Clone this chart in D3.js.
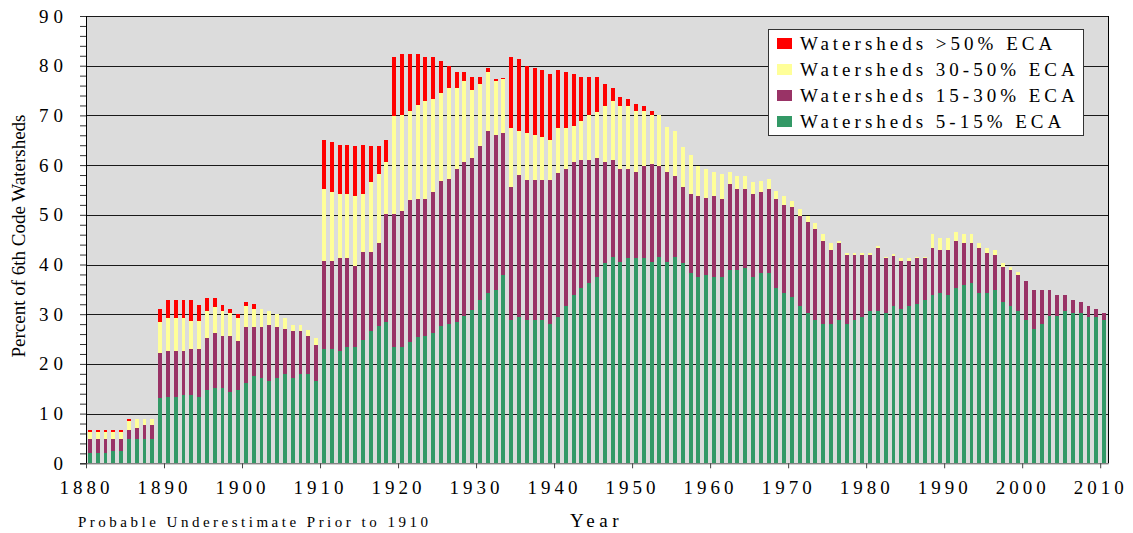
<!DOCTYPE html>
<html lang="en">
<head>
  <meta charset="UTF-8">
  <script src="https://d3js.org/d3.v7.min.js"></script>
  <style>
    body { margin: 0; background: white; }
    text { font-family: "Liberation Serif", "Times New Roman", serif; fill: #000; }
  </style>
</head>
<body>
  <div id="chart"></div>
  <script>
    // one value per year, 1880 .. 2010
    const years = d3.range(1880, 2011);

    const green = [
      2.1, 2.1, 2.1, 2.5, 2.5, 4.8, 4.8, 4.8, 4.8, 13.1,
      13.4, 13.4, 13.8, 13.8, 13.4, 14.8, 15.1, 15.1, 14.3, 14.8,
      16.1, 17.5, 17.1, 16.6, 17.1, 18.0, 17.1, 18.0, 18.0, 16.6,
      23.0, 23.0, 22.6, 23.4, 23.4, 24.8, 26.6, 27.7, 28.5, 23.4,
      23.4, 24.4, 25.4, 25.7, 26.2, 27.7, 28.1, 28.5, 29.7, 30.8,
      32.9, 34.2, 34.9, 37.9, 28.9, 29.4, 28.9, 28.9, 28.9, 28.1,
      29.5, 31.7, 33.9, 35.2, 36.2, 37.5, 40.3, 41.5, 40.6, 41.3,
      41.3, 41.3, 40.6, 41.5, 40.6, 41.5, 40.3, 38.3, 37.5, 37.9,
      37.5, 37.5, 38.8, 38.8, 39.3, 37.5, 38.3, 38.3, 35.2, 34.2,
      33.5, 31.7, 30.2, 28.9, 28.1, 28.1, 28.9, 28.1, 28.9, 29.4,
      30.6, 30.6, 30.2, 31.7, 31.1, 31.7, 32.1, 32.9, 33.9, 34.2,
      33.9, 35.2, 35.8, 36.2, 34.2, 34.2, 34.8, 32.5, 31.7, 30.6,
      28.9, 27.0, 28.1, 29.7, 29.7, 30.6, 30.2, 30.2, 29.4, 29.4, 28.9
    ];
    const purple = [
      2.7, 2.7, 2.7, 2.3, 2.3, 1.8, 2.4, 2.85, 2.85, 9.0,
      9.2, 9.2, 8.8, 9.2, 9.6, 10.4, 11.2, 10.5, 11.3, 9.8,
      11.4, 10.0, 10.4, 11.3, 10.4, 9.0, 9.5, 8.6, 7.6, 7.2,
      17.7, 17.7, 18.7, 17.9, 16.3, 17.7, 15.9, 16.7, 21.7, 26.8,
      27.4, 28.5, 27.8, 27.5, 28.4, 29.2, 29.2, 30.8, 31.0, 30.7,
      30.9, 32.6, 31.1, 28.5, 26.7, 28.6, 28.1, 28.1, 28.1, 28.9,
      28.9, 27.6, 26.8, 25.9, 24.9, 24.0, 20.4, 19.6, 18.7, 18.0,
      17.4, 18.5, 19.7, 18.3, 18.1, 16.4, 15.3, 15.9, 16.3, 15.4,
      16.3, 15.7, 17.4, 16.4, 15.9, 16.7, 16.3, 16.9, 18.0, 17.7,
      18.0, 18.1, 18.3, 18.2, 16.7, 14.9, 15.4, 13.8, 13.0, 12.5,
      11.3, 12.8, 11.1, 10.0, 9.6, 9.1, 9.2, 8.4, 9.5, 8.8,
      9.1, 9.6, 8.5, 8.1, 9.2, 8.2, 7.1, 6.9, 7.2, 7.3,
      7.7, 7.8, 6.7, 5.1, 4.2, 3.3, 2.7, 2.3, 2.3, 1.7, 1.3
    ];
    const yellow = [
      1.4, 1.4, 1.4, 1.4, 1.4, 1.9, 1.8, 1.35, 1.35, 6.3,
      6.7, 6.7, 6.7, 5.7, 5.7, 5.5, 5.2, 5.0, 4.6, 4.7,
      4.1, 3.5, 3.5, 2.7, 2.6, 2.3, 1.3, 1.3, 1.2, 1.5,
      14.5, 13.9, 12.9, 12.9, 14.1, 11.7, 14.0, 13.9, 10.4, 19.6,
      19.3, 18.0, 18.9, 19.6, 18.6, 17.7, 18.3, 16.3, 16.3, 13.7,
      12.5, 11.9, 11.0, 10.9, 11.8, 8.8, 9.4, 9.0, 8.6, 8.1,
      9.0, 8.1, 7.2, 7.7, 9.0, 9.1, 11.2, 11.7, 12.6, 12.6,
      12.2, 11.1, 9.8, 10.3, 9.0, 8.9, 8.0, 7.8, 6.0, 5.9,
      4.9, 5.1, 2.5, 2.7, 2.7, 2.3, 2.3, 2.1, 1.5, 1.9,
      1.3, 1.3, 1.2, 1.2, 1.3, 1.3, 0.5, 0.4, 0.4, 0.4,
      0.4, 0.4, 0.3, 0.4, 0.6, 0.5, 0.3, 0.3, 2.7, 2.3,
      2.3, 1.8, 1.8, 1.8, 0.9, 1.0, 1.1, 0.9, 0.5, 0.5,
      0, 0, 0, 0, 0, 0, 0, 0, 0, 0, 0
    ];
    const red = [
      0.4, 0.4, 0.4, 0.4, 0.4, 0.5, 0, 0, 0, 2.7,
      3.5, 3.5, 3.5, 4.1, 3.2, 2.6, 1.8, 1.3, 0.9, 0.8,
      0.8, 1.1, 0, 0, 0, 0, 0, 0, 0, 0,
      9.9, 10.1, 9.9, 9.9, 10.0, 9.9, 7.3, 5.5, 4.5, 11.9,
      12.2, 11.4, 10.2, 8.9, 8.5, 6.4, 4.4, 3.1, 1.7, 2.5,
      1.4, 0.9, 0.3, 0.3, 14.3, 14.6, 13.6, 13.6, 13.6, 13.2,
      11.8, 11.3, 10.4, 8.9, 7.6, 7.1, 4.5, 2.8, 1.8, 1.4,
      1.4, 1.0, 0.8, 0, 0, 0, 0, 0, 0, 0,
      0, 0, 0, 0, 0, 0, 0, 0, 0, 0,
      0, 0, 0, 0, 0, 0, 0, 0, 0, 0,
      0, 0, 0, 0, 0, 0, 0, 0, 0, 0,
      0, 0, 0, 0, 0, 0, 0, 0, 0, 0,
      0, 0, 0, 0, 0, 0, 0, 0, 0, 0, 0
    ];

    const keys = ["green", "purple", "yellow", "red"];
    const labels = {
      red: "Watersheds >50% ECA",
      yellow: "Watersheds 30-50% ECA",
      purple: "Watersheds 15-30% ECA",
      green: "Watersheds 5-15% ECA"
    };
    const colors = { green: "#339966", purple: "#993366", yellow: "#ffff99", red: "#ff0000" };
    const yTicks = d3.range(0, 91, 2);
    const decades = d3.range(1880, 2011, 10);

    const rows = years.map((yr, i) => ({
      year: yr, green: green[i], purple: purple[i], yellow: yellow[i], red: red[i]
    }));

    const W = 1133, H = 533;
    const plotL = 86, plotR = 1108, plotT = 16, plotB = 463.3;

    const svg = d3.select("#chart").append("svg")
      .attr("width", W).attr("height", H);

    const x = d3.scaleBand().domain(years).range([plotL, plotR])
      .paddingInner(0.5).paddingOuter(0.25);
    // year edges, for the decade tick marks between the bars
    const xEdge = d3.scaleLinear().domain([1880, 2011]).range([plotL, plotR]);
    const y = d3.scaleLinear().domain([0, 90]).range([plotB, plotT]);

    // plot area
    svg.append("rect")
      .attr("x", plotL).attr("y", plotT)
      .attr("width", plotR - plotL).attr("height", plotB - plotT)
      .attr("fill", "#dcdcdc");

    // gridlines
    svg.append("g").selectAll("line")
      .data(d3.range(10, 91, 10))
      .enter().append("line")
      .attr("x1", plotL).attr("x2", plotR)
      .attr("y1", d => Math.round(y(d)) + 0.5)
      .attr("y2", d => Math.round(y(d)) + 0.5)
      .attr("stroke", "#1a1a1a");

    // bars
    const stacked = d3.stack().keys(keys)(rows);
    svg.append("g").attr("shape-rendering", "crispEdges")
      .selectAll("g")
      .data(stacked)
      .enter().append("g")
      .attr("fill", d => colors[d.key])
      .selectAll("rect")
      .data(d => d.filter(s => s[1] > s[0]))
      .enter().append("rect")
      .attr("x", d => x(d.data.year))
      .attr("y", d => y(d[1]))
      .attr("width", x.bandwidth())
      .attr("height", d => y(d[0]) - y(d[1]));

    // right border
    svg.append("line")
      .attr("x1", plotR + 0.5).attr("x2", plotR + 0.5)
      .attr("y1", plotT).attr("y2", plotB)
      .attr("stroke", "#000");

    // y axis
    const yAxis = svg.append("g")
      .attr("transform", `translate(${plotL},0)`)
      .call(d3.axisLeft(y).tickValues(yTicks)
        .tickFormat(d => d % 10 === 0 ? d : "")
        .tickSize(6).tickPadding(12));
    yAxis.select(".domain").attr("stroke", "#000");
    yAxis.selectAll(".tick line").attr("stroke", "#333");
    yAxis.selectAll("text")
      .style("font-family", "'Liberation Serif', serif")
      .style("font-size", "19px")
      .style("letter-spacing", "5px");

    // x axis
    const xAxis = svg.append("g")
      .attr("transform", `translate(0,${plotB})`)
      .call(d3.axisBottom(xEdge).tickValues(decades)
        .tickFormat(d3.format("d"))
        .tickSize(5).tickPadding(12).tickSizeOuter(0));
    xAxis.select(".domain").attr("stroke", "#555");
    xAxis.selectAll(".tick line").attr("stroke", "#444");
    xAxis.selectAll("text")
      .style("font-family", "'Liberation Serif', serif")
      .style("font-size", "19px")
      .style("letter-spacing", "4px");

    // titles
    svg.append("text")
      .attr("transform", "translate(25,236) rotate(-90)")
      .style("text-anchor", "middle")
      .style("font-size", "19px")
      .text("Percent of 6th Code Watersheds");

    svg.append("text")
      .attr("x", 78).attr("y", 527)
      .style("font-size", "15px")
      .style("letter-spacing", "3.5px")
      .text("Probable Underestimate Prior to 1910");

    svg.append("text")
      .attr("x", 570).attr("y", 527)
      .style("font-size", "19px")
      .style("letter-spacing", "4.5px")
      .text("Year");

    // legend
    const legend = svg.append("g").attr("transform", "translate(768,29)");
    legend.append("rect")
      .attr("x", 0.5).attr("y", 0.5)
      .attr("width", 315).attr("height", 106)
      .attr("fill", "white").attr("stroke", "#333");

    const legendKeys = keys.slice().reverse();
    legend.selectAll("rect.sw")
      .data(legendKeys)
      .enter().append("rect")
      .attr("class", "sw")
      .attr("x", 9).attr("y", (d, i) => 9 + i * 26)
      .attr("width", 15).attr("height", 11)
      .attr("fill", d => colors[d]);

    legend.selectAll("text")
      .data(legendKeys)
      .enter().append("text")
      .attr("x", 32).attr("y", (d, i) => 21 + i * 26)
      .style("font-size", "19px")
      .style("letter-spacing", "4px")
      .text(d => labels[d]);
  </script>
</body>
</html>
